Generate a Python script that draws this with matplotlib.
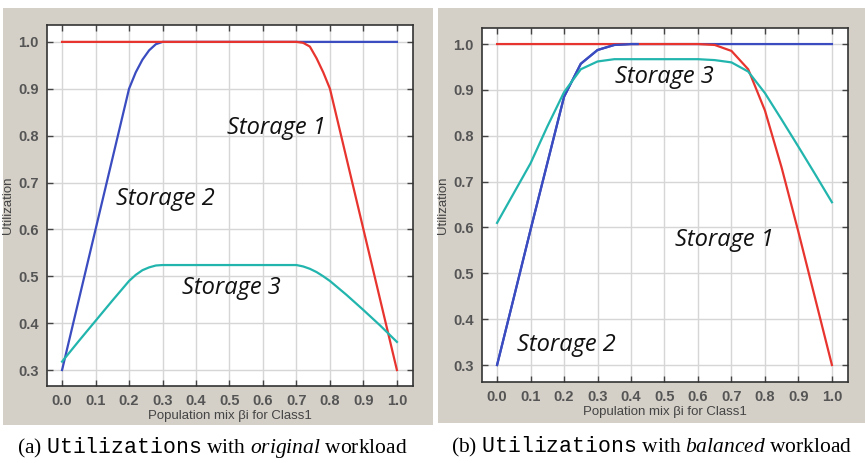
import numpy as np
import matplotlib.pyplot as plt
from matplotlib.patches import Rectangle

# data (population mix vs utilization)
x_orig = [0.0, 0.05, 0.1, 0.15, 0.2, 0.22, 0.24, 0.26, 0.28, 0.3, 0.4, 0.5, 0.6, 0.7,
          0.72, 0.74, 0.76, 0.78, 0.8, 0.85, 0.9, 0.95, 1.0]
s1_orig = [1.0, 1.0, 1.0, 1.0, 1.0, 1.0, 1.0, 1.0, 1.0, 1.0, 1.0, 1.0, 1.0, 1.0,
           0.998, 0.99, 0.965, 0.935, 0.9, 0.75, 0.6, 0.45, 0.3]
s2_orig = [0.3, 0.45, 0.6, 0.75, 0.9, 0.935, 0.962, 0.982, 0.995, 1.0, 1.0, 1.0, 1.0, 1.0,
           1.0, 1.0, 1.0, 1.0, 1.0, 1.0, 1.0, 1.0, 1.0]
s3_orig = [0.318, 0.362, 0.405, 0.448, 0.49, 0.503, 0.513, 0.519, 0.523, 0.524, 0.524, 0.524,
           0.524, 0.524, 0.521, 0.516, 0.509, 0.5, 0.49, 0.46, 0.428, 0.395, 0.36]

x_bal = [0.0, 0.05, 0.1, 0.15, 0.2, 0.25, 0.3, 0.35, 0.4, 0.42, 0.5, 0.6, 0.65, 0.7,
         0.75, 0.8, 0.85, 0.9, 0.95, 1.0]
s1_bal = [1.0, 1.0, 1.0, 1.0, 1.0, 1.0, 1.0, 1.0, 1.0, 1.0, 1.0, 1.0, 0.998, 0.985,
          0.945, 0.855, 0.73, 0.59, 0.445, 0.3]
s2_bal = [0.3, 0.447, 0.595, 0.74, 0.885, 0.957, 0.987, 0.998, 1.0, 1.0, 1.0, 1.0, 1.0, 1.0,
          1.0, 1.0, 1.0, 1.0, 1.0, 1.0]
s3_bal = [0.61, 0.675, 0.74, 0.82, 0.895, 0.945, 0.962, 0.967, 0.967, 0.967, 0.967, 0.967,
          0.965, 0.96, 0.94, 0.893, 0.835, 0.776, 0.716, 0.655]

xticks = [0.0, 0.1, 0.2, 0.3, 0.4, 0.5, 0.6, 0.7, 0.8, 0.9, 1.0]
yticks = [0.3, 0.4, 0.5, 0.6, 0.7, 0.8, 0.9, 1.0]

RED = '#e8342e'
BLUE = '#3a4cc0'
CYAN = '#22b5ae'
PANEL = '#d4d0c8'

plt.rcParams['mathtext.fontset'] = 'custom'
plt.rcParams['mathtext.rm'] = 'Liberation Serif'
plt.rcParams['mathtext.it'] = 'Liberation Serif:italic'
plt.rcParams['mathtext.tt'] = 'Liberation Mono'

fig = plt.figure(figsize=(8.65, 4.63), dpi=100)
W, H = 865, 463

# grey window backgrounds behind each chart
fig.patches.append(Rectangle((3 / W, 38 / H), 430 / W, 417 / H, transform=fig.transFigure,
                             facecolor=PANEL, edgecolor='none', zorder=-5))
fig.patches.append(Rectangle((438 / W, 40 / H), 427 / W, 415 / H, transform=fig.transFigure,
                             facecolor=PANEL, edgecolor='none', zorder=-5))

ax1 = fig.add_axes([47 / W, 77 / H, 366 / W, 361 / H])
ax2 = fig.add_axes([482 / W, 81 / H, 366 / W, 354 / H])

note_font = dict(family='Open Sans', style='italic', fontweight='normal',
                 fontsize=17, color='#111111')


def style(ax):
    ax.set_facecolor('white')
    ax.set_xlim(-0.045, 1.048)
    ax.set_xticks(xticks)
    ax.set_yticks(yticks)
    ax.set_xticklabels([f'{t:.1f}' for t in xticks])
    ax.set_yticklabels([f'{t:.1f}' for t in yticks])
    ax.grid(True, color='#d6d6d6', linewidth=1.0)
    ax.set_axisbelow(True)
    ax.tick_params(direction='in', top=True, right=True, length=4, width=1,
                   color='#444444', labelsize=10.5, labelcolor='#555555', pad=6)
    for lab in ax.get_xticklabels() + ax.get_yticklabels():
        lab.set_fontweight('bold')
        lab.set_family('Liberation Sans')
    for sp in ax.spines.values():
        sp.set_color('#333333')
        sp.set_linewidth(1.2)
    ax.set_xlabel('Population mix βi for Class1', fontsize=9.5, color='#444444',
                  family='Liberation Sans', labelpad=1)
    ax.set_ylabel('Utilization', fontsize=9.5, color='#444444',
                  family='Liberation Sans', labelpad=3)


# (a) original workload
style(ax1)
ax1.set_ylim(0.266, 1.036)
ax1.plot(x_orig, s2_orig, color=BLUE, lw=1.6, zorder=2)
ax1.plot(x_orig, s1_orig, color=RED, lw=1.6, zorder=3)
ax1.plot(x_orig, s3_orig, color=CYAN, lw=1.6, zorder=4)
ax1.text(0.64, 0.816, 'Storage 1', ha='center', va='center', **note_font)
ax1.text(0.31, 0.665, 'Storage 2', ha='center', va='center', **note_font)
ax1.text(0.507, 0.475, 'Storage 3', ha='center', va='center', **note_font)

# (b) balanced workload
style(ax2)
ax2.set_ylim(0.263, 1.035)
xb = np.array(x_bal)
s2b = np.array(s2_bal)
ax2.plot(xb, s2b, color=BLUE, lw=1.6, zorder=2)
ax2.plot(x_bal, s1_bal, color=RED, lw=1.6, zorder=3)
early = xb <= 0.42
ax2.plot(xb[early], s2b[early], color=BLUE, lw=1.6, zorder=4)
ax2.plot(x_bal, s3_bal, color=CYAN, lw=1.6, zorder=5)
ax2.text(0.50, 0.928, 'Storage 3', ha='center', va='center', **note_font)
ax2.text(0.678, 0.573, 'Storage 1', ha='center', va='center', **note_font)
ax2.text(0.208, 0.344, 'Storage 2', ha='center', va='center', **note_font)

# captions under the two panels
fig.text(212 / W, 1 - 447 / H, r'(a) $\mathtt{Utilizations}$ with $\mathit{original}$ workload',
         ha='center', va='center', fontsize=15.5, family='Liberation Serif')
fig.text(652 / W, 1 - 447 / H, r'(b) $\mathtt{Utilizations}$ with $\mathit{balanced}$ workload',
         ha='center', va='center', fontsize=15.5, family='Liberation Serif')

fig.savefig('out.png', dpi=100)
